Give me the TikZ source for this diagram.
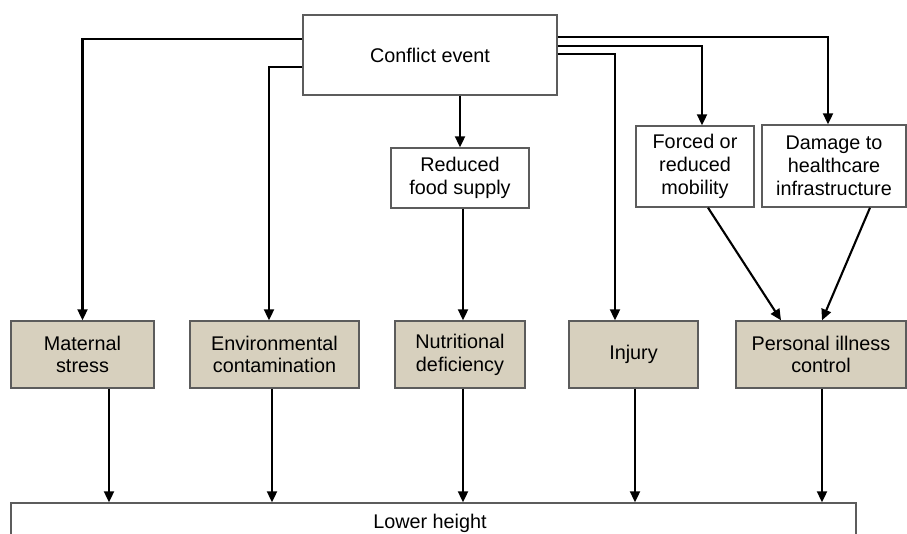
\documentclass[tikz,border=0pt]{standalone}
\usepackage{fontspec}
\setmainfont{Liberation Sans}
\usepackage{xcolor}
\usetikzlibrary{arrows.meta,calc}
\definecolor{ccTan}{HTML}{D7D0BE}
\definecolor{ccBdr}{HTML}{5C5C5C}
\begin{document}
\begin{tikzpicture}[
  x=1pt, y=-1pt,
  font=\fontsize{19.8}{22.8}\selectfont,
  box/.style={draw=ccBdr, line width=1.4pt, align=center, inner sep=0pt, fill=white},
  cause/.style={box, fill=ccTan, minimum width=#1, minimum height=67pt},
  ca/.style={-{Triangle[length=11pt, width=10pt]}, line width=2.1pt},
]
\useasboundingbox (0,0) rectangle (907,534);
\clip (0,0) rectangle (907,534);
% top event and intermediate boxes
\node[box, minimum width=254pt, minimum height=80pt] (conflict) at (430,55) {Conflict event};
\node[box, minimum width=138pt, minimum height=60pt] (food) at (460,178) {Reduced\\food supply};
\node[box, minimum width=118pt, minimum height=81pt] (mobility) at (695,166.5) {Forced or\\reduced\\mobility};
\node[box, minimum width=144pt, minimum height=82pt] (damage) at (834,166) {Damage to\\healthcare\\infrastructure};
% pathways (tan row)
\node[cause=143pt] (stress) at (82.5,354.5) {Maternal\\stress};
\node[cause=169pt] (contam) at (274.5,354.5) {Environmental\\contamination};
\node[cause=130pt] (nutri) at (460,354.5) {Nutritional\\deficiency};
\node[cause=129pt] (injury) at (633.5,354.5) {Injury};
\node[cause=170pt] (illness) at (821,354.5) {Personal illness\\control};
% outcome
\node[box, minimum width=845pt, minimum height=44pt] (height) at (433.5,525) {};
\node (heightlbl) at (430,523) {Lower height};
% conflict event -> branches
\draw[ca] ($(conflict.north west)+(0,25)$) -| (stress.north);
\draw[ca] ($(conflict.north west)+(0,53)$) -| ($(contam.north)+(-5.5,0)$);
\draw[ca] (food.north |- conflict.south) -- (food.north);
\draw[ca] ($(conflict.north east)+(0,23)$) -| ($(damage.north)+(-6,0)$);
\draw[ca] ($(conflict.north east)+(0,32)$) -| ($(mobility.north)+(7,0)$);
\draw[ca] ($(conflict.north east)+(0,40)$) -| ($(injury.north)+(-18.5,0)$);
% intermediate -> pathways
\draw[ca] ($(food.south)+(3,0)$) -- ($(nutri.north)+(3,0)$);
\draw[ca] ($(mobility.south)+(13,0)$) -- ($(illness.north)+(-40,0)$);
\draw[ca] ($(damage.south)+(36,0)$) -- ($(illness.north)+(1,0)$);
% pathways -> lower height
\foreach \n/\dx in {stress/26.5, contam/-2.5, nutri/3, injury/1.5, illness/1}
  \draw[ca] ($(\n.south)+(\dx,0)$) coordinate (t) -- (t |- height.north);
\end{tikzpicture}
\end{document}
